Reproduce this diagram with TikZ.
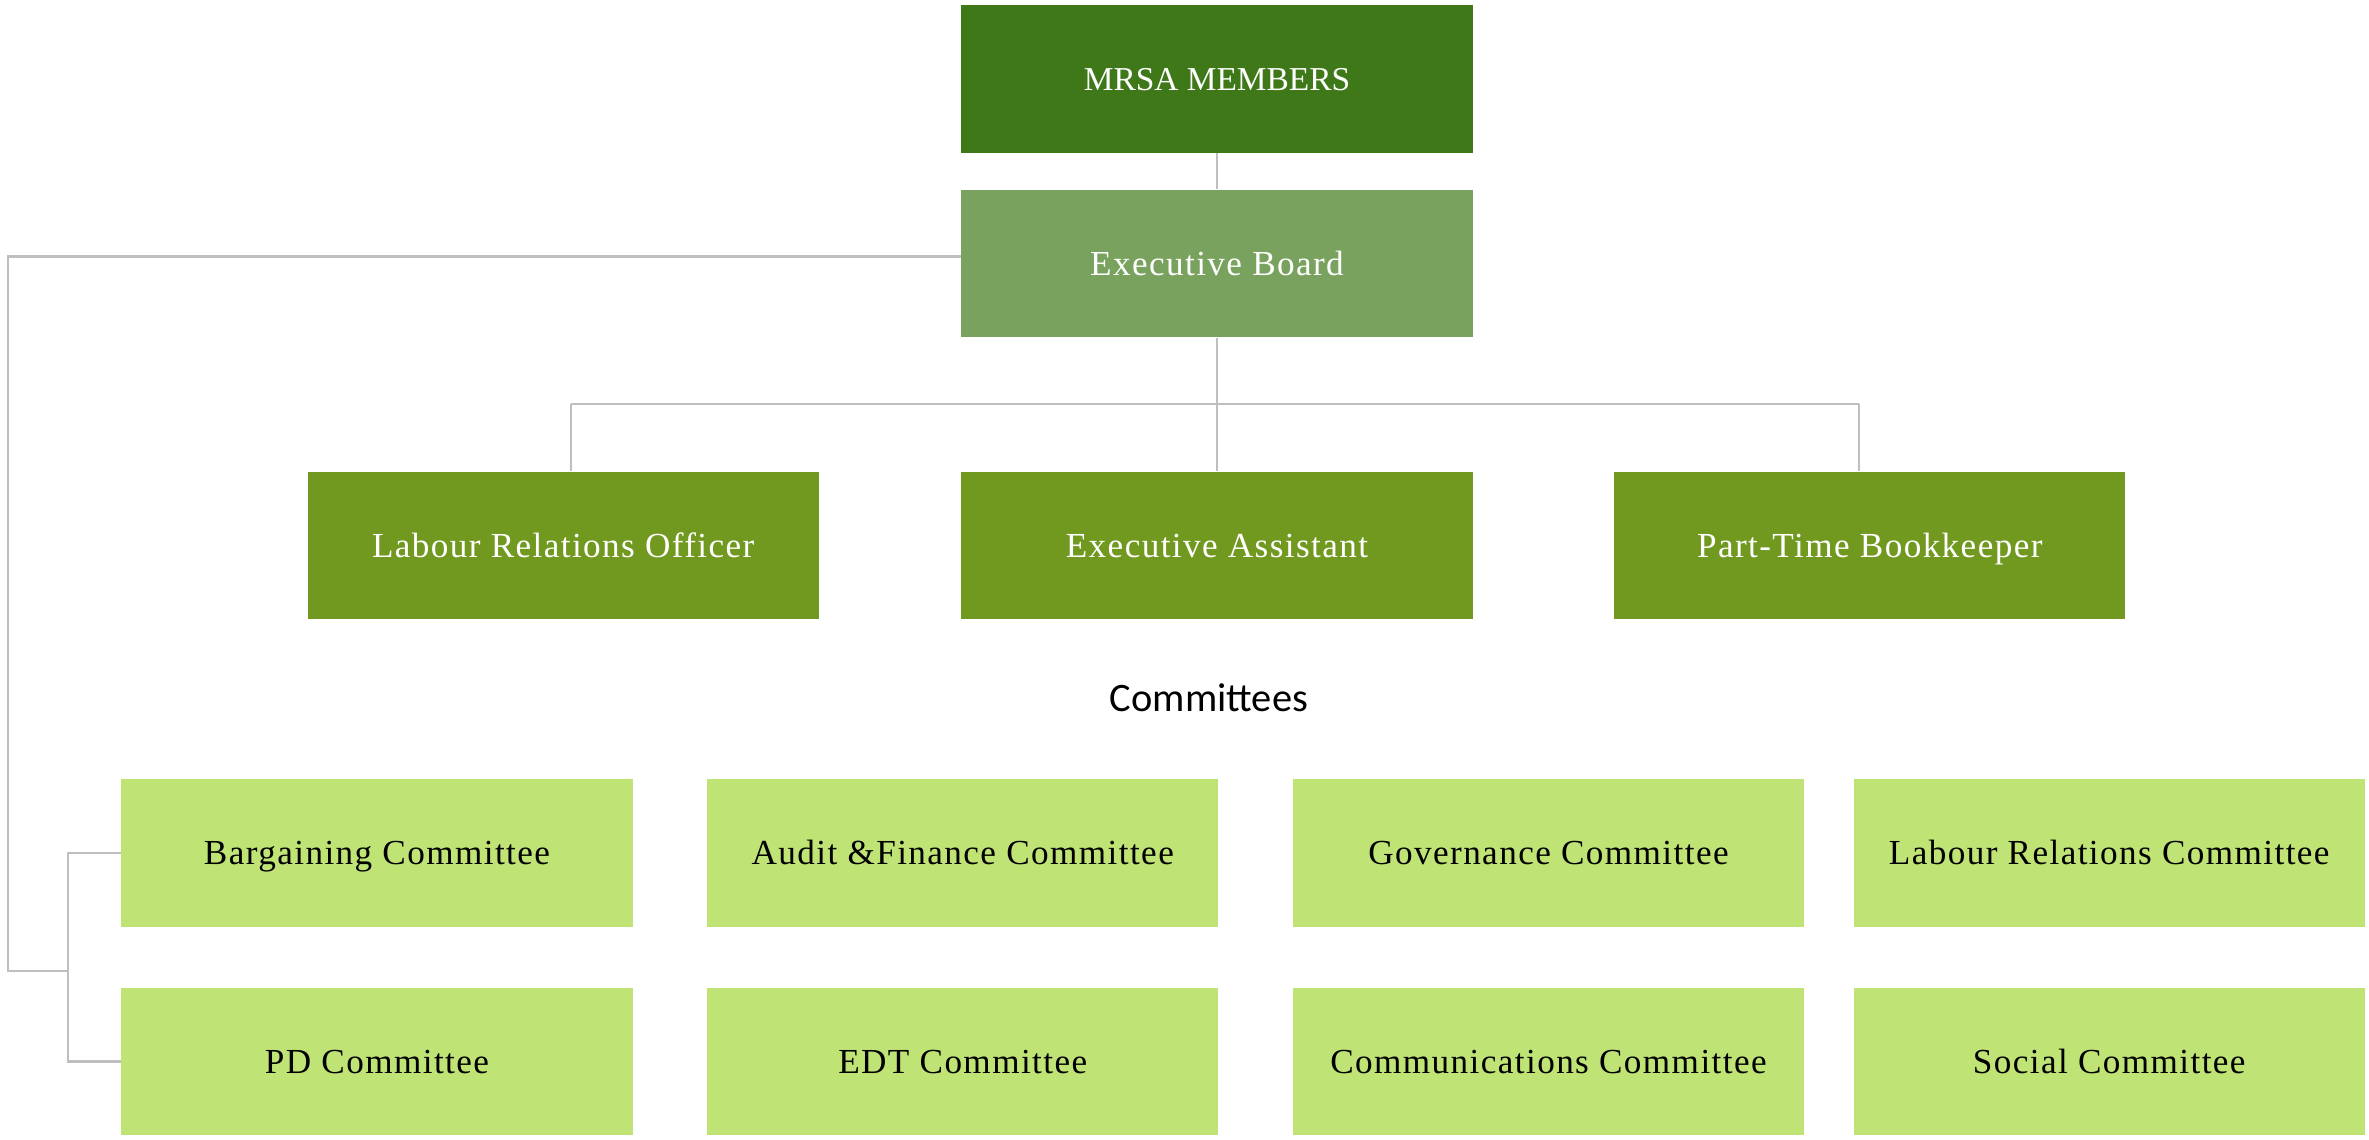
\documentclass[tikz,border=0pt]{standalone}
\usepackage{fontspec}
\setmainfont{Liberation Serif}
\newfontfamily\headfont{Carlito}
\usetikzlibrary{positioning}
\definecolor{membergreen}{HTML}{3F7819}
\definecolor{boardgreen}{HTML}{78A25E}
\definecolor{staffgreen}{HTML}{71991F}
\definecolor{committeegreen}{HTML}{C0E375}
\definecolor{linkgray}{HTML}{BFBFBF}

\begin{document}
\begin{tikzpicture}[x=0.01cm,y=-0.01cm,
  box/.style={rectangle,inner sep=0pt,minimum width=5.11cm,minimum height=1.47cm,
    text height=8pt,text depth=1.2pt,
    font=\fontsize{10}{12}\selectfont\addfontfeature{LetterSpace=4}},
  member node/.style={box,fill=membergreen,text=white,font=\fontsize{9.5}{12}\selectfont},
  board node/.style={box,fill=boardgreen,text=white},
  staff node/.style={box,fill=staffgreen,text=white},
  committee node/.style={box,fill=committeegreen,text=black},
  link/.style={draw=linkgray,line width=0.8pt}]
  \useasboundingbox (0,0) rectangle (2369,1139);
  \node[member node] (MM) at (1217,79) {MRSA MEMBERS};
  \node[board node] (EB) [below=0.36cm of MM] {Executive Board};
  \node[staff node] (EA) [below=1.33cm of EB] {Executive Assistant};
  \node[staff node] (LRO) [left=1.41cm of EA] {Labour Relations Officer};
  \node[staff node] (PTB) [right=1.40cm of EA] {Part-Time Bookkeeper};
  \node[font=\headfont\fontsize{11.5}{14}\selectfont] (CT) at (1209,698) {Committees};
  \node[committee node] (BC) at (377,853) {Bargaining Committee};
  \node[committee node] (AFC) [right=0.73cm of BC] {Audit \&Finance Committee};
  \node[committee node] (GC) [right=0.73cm of AFC] {Governance Committee};
  \node[committee node] (LRC) [right=0.48cm of GC] {Labour Relations Committee};
  \node[committee node] (PDC) [below=0.60cm of BC] {PD Committee};
  \node[committee node] (EDT) [below=0.60cm of AFC] {EDT Committee};
  \node[committee node] (CC) [below=0.60cm of GC] {Communications Committee};
  \node[committee node] (SC) [below=0.60cm of LRC] {Social Committee};
  \coordinate (busL) at (571,404);
  \coordinate (busR) at (1859,404);
  \coordinate (elbow) at (8,971);
  \coordinate (spine) at (68,971);
  \path[link] (MM) -- (EB)
    (EB.south) -- (EA.north)
    (busL) -- (busR)
    (busL) -- (busL |- LRO.north)
    (busR) -- (busR |- PTB.north)
    ([yshift=0.07cm]EB.west) -| (elbow) -- (spine)
    (BC.west) -- (BC.west -| spine) -- (PDC.west -| spine) -- (PDC.west);
\end{tikzpicture}
\end{document}
